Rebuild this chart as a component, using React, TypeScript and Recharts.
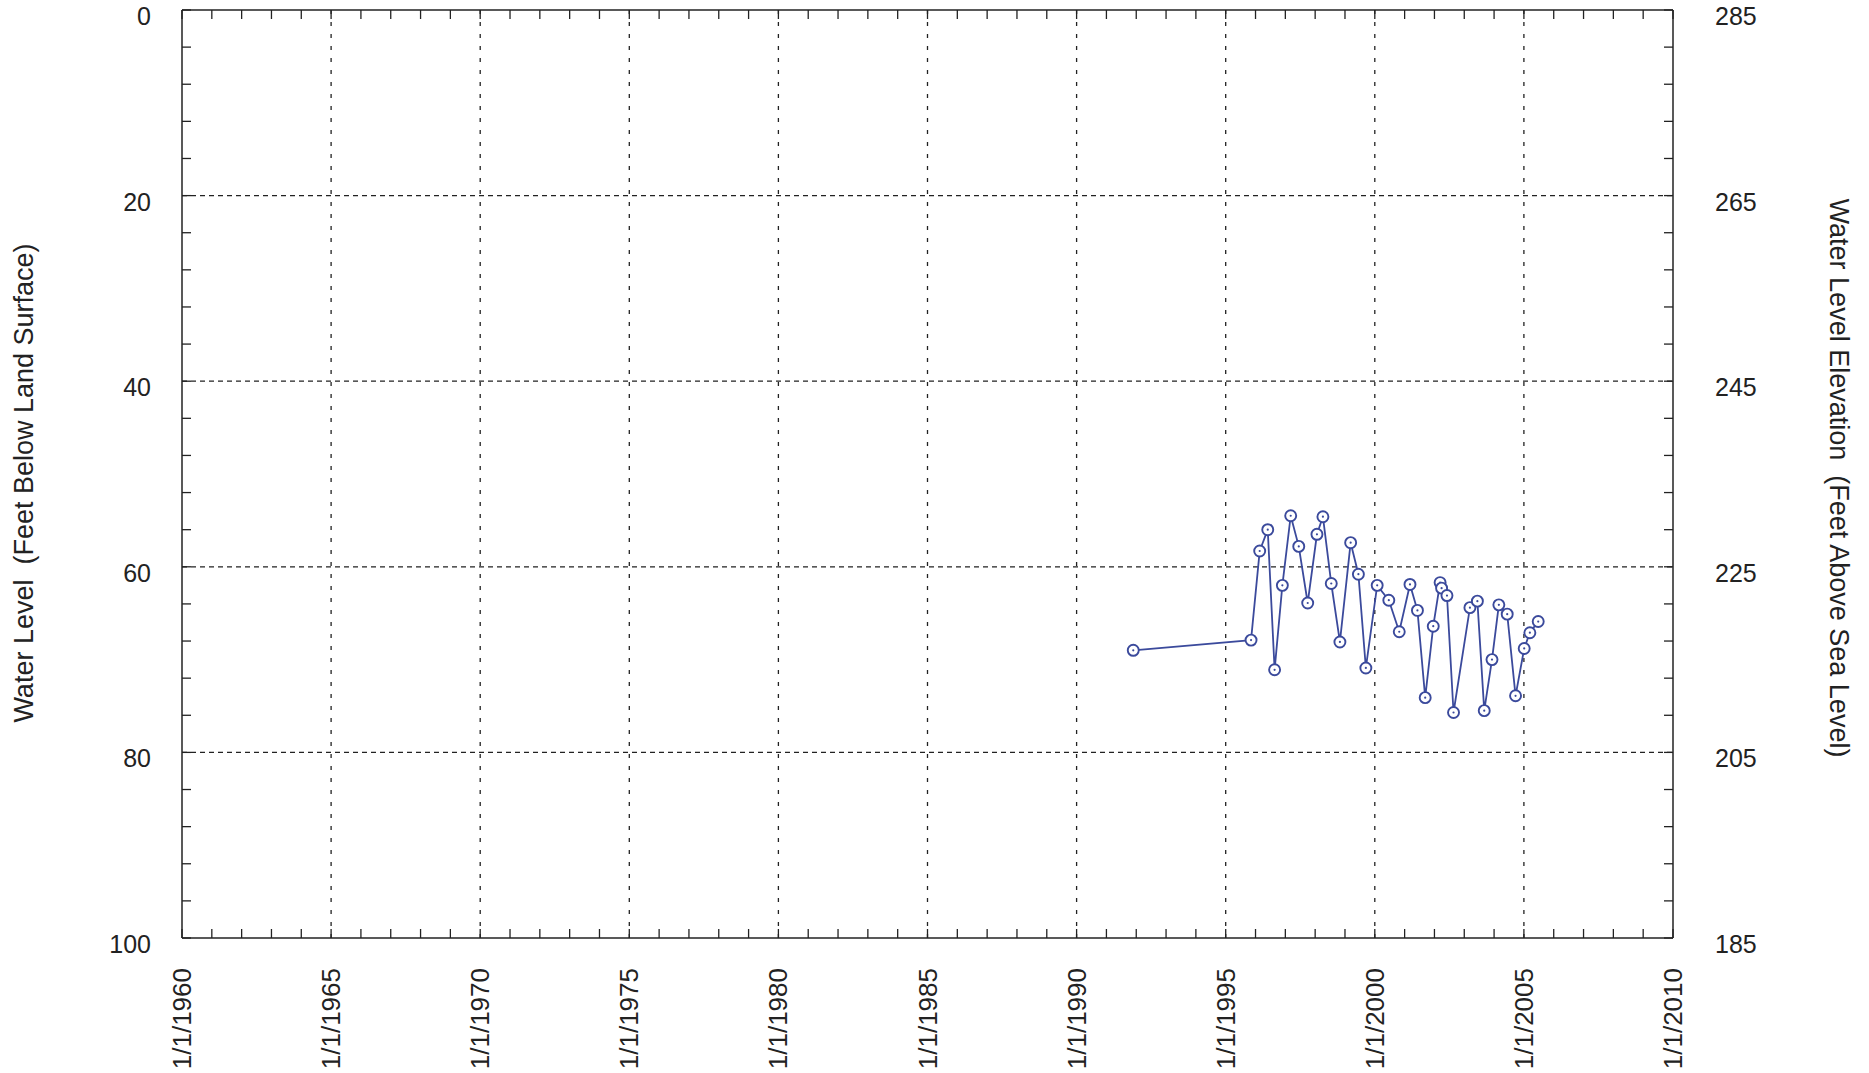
import { LineChart, Line, XAxis, YAxis, ReferenceLine } from "recharts";

// sample dates (decimal years) and depth to water (ft below land surface)
const sampleYears = [
  1991.9, 1995.85, 1996.14, 1996.41, 1996.64, 1996.9, 1997.18, 1997.45, 1997.75, 1998.06,
  1998.26, 1998.54, 1998.83, 1999.19, 1999.45, 1999.7, 2000.08, 2000.47, 2000.82, 2001.18,
  2001.43, 2001.69, 2001.96, 2002.19, 2002.24, 2002.42, 2002.64, 2003.19, 2003.44, 2003.67,
  2003.93, 2004.16, 2004.44, 2004.72, 2005.01, 2005.2, 2005.48,
];
const depthFt = [
  69.0, 67.9, 58.3, 56.0, 71.1, 62.0, 54.5, 57.8, 63.9, 56.5,
  54.6, 61.8, 68.1, 57.4, 60.8, 70.9, 62.0, 63.6, 67.0, 61.9,
  64.7, 74.1, 66.4, 61.7, 62.3, 63.1, 75.7, 64.4, 63.7, 75.5,
  70.0, 64.1, 65.1, 73.9, 68.8, 67.1, 65.9,
];

const yearTicks = [
  1960, 1961, 1962, 1963, 1964, 1965, 1966, 1967, 1968, 1969, 1970, 1971, 1972, 1973, 1974,
  1975, 1976, 1977, 1978, 1979, 1980, 1981, 1982, 1983, 1984, 1985, 1986, 1987, 1988, 1989,
  1990, 1991, 1992, 1993, 1994, 1995, 1996, 1997, 1998, 1999, 2000, 2001, 2002, 2003, 2004,
  2005, 2006, 2007, 2008, 2009, 2010,
];
const yearGrid = [1965, 1970, 1975, 1980, 1985, 1990, 1995, 2000, 2005];
const depthTicks = [0, 4, 8, 12, 16, 20, 24, 28, 32, 36, 40, 44, 48, 52, 56, 60, 64, 68, 72, 76, 80, 84, 88, 92, 96, 100];
const depthLabels = [0, 20, 40, 60, 80, 100];
const depthGrid = [20, 40, 60, 80];
const elevTicks = [185, 189, 193, 197, 201, 205, 209, 213, 217, 221, 225, 229, 233, 237, 241, 245, 249, 253, 257, 261, 265, 269, 273, 277, 281, 285];
const elevLabels = [285, 265, 245, 225, 205, 185];

const data = sampleYears.map((year, i) => ({ year, depth: depthFt[i] }));

const FONT = "'Liberation Sans', Arial, sans-serif";
const INK = "#222";
const BLUE = "#3b4a9c";
const TICK = 9;

function BottomTick({ x, y, payload }: any) {
  const v = payload.value;
  const major = v % 5 === 0;
  return (
    <g>
      <line x1={x} y1={y} x2={x} y2={y - TICK} stroke={INK} strokeWidth={1.3} />
      {major && (
        <text
          x={x}
          y={y + 30}
          transform={`rotate(-90 ${x} ${y + 30})`}
          textAnchor="end"
          dominantBaseline="central"
          fontSize={26}
          fontFamily={FONT}
          fill={INK}
        >
          {`1/1/${v}`}
        </text>
      )}
    </g>
  );
}

function TopTick({ x, y }: any) {
  return <line x1={x} y1={y} x2={x} y2={y + TICK} stroke={INK} strokeWidth={1.3} />;
}

function LeftTick({ x, y, payload }: any) {
  const v = payload.value;
  return (
    <g>
      <line x1={x} y1={y} x2={x + TICK} y2={y} stroke={INK} strokeWidth={1.3} />
      {depthLabels.includes(v) && (
        <text x={x - 31} y={y + 6} textAnchor="end" dominantBaseline="central" fontSize={25} fontFamily={FONT} fill={INK}>
          {v}
        </text>
      )}
    </g>
  );
}

function RightTick({ x, y, payload }: any) {
  const v = payload.value;
  return (
    <g>
      <line x1={x} y1={y} x2={x - TICK} y2={y} stroke={INK} strokeWidth={1.3} />
      {elevLabels.includes(v) && (
        <text x={x + 42} y={y + 6} textAnchor="start" dominantBaseline="central" fontSize={25} fontFamily={FONT} fill={INK}>
          {v}
        </text>
      )}
    </g>
  );
}

function OpenDot({ cx, cy, index }: any) {
  if (cx == null || cy == null) return <g key={`d${index}`} />;
  return (
    <g key={`d${index}`}>
      <circle cx={cx} cy={cy} r={5.5} fill="#fff" stroke={BLUE} strokeWidth={1.9} />
      <circle cx={cx} cy={cy} r={1.1} fill={BLUE} />
    </g>
  );
}

function LeftTitle({ viewBox }: any) {
  const cy = viewBox ? viewBox.y + viewBox.height / 2 + 9 : 483;
  return (
    <text x={24} y={cy} transform={`rotate(-90 24 ${cy})`} textAnchor="middle" dominantBaseline="central" fontSize={27} fontFamily={FONT} fill={INK}>
      {"Water Level\u00A0\u00A0(Feet Below Land Surface)"}
    </text>
  );
}

function RightTitle({ viewBox }: any) {
  const cy = viewBox ? viewBox.y + viewBox.height / 2 + 4 : 478;
  return (
    <text x={1839} y={cy} transform={`rotate(90 1839 ${cy})`} textAnchor="middle" dominantBaseline="central" fontSize={27} fontFamily={FONT} fill={INK}>
      {"Water Level Elevation\u00A0\u00A0(Feet Above Sea Level)"}
    </text>
  );
}

export default function App() {
  return (
    <div style={{ position: "absolute", left: 0, top: 0, width: 1869, height: 1073, background: "#fff" }}>
      <LineChart width={1869} height={1073} data={data} margin={{ top: 0, right: 0, bottom: 0, left: 0 }}>
        <XAxis
          xAxisId="b"
          dataKey="year"
          type="number"
          domain={[1960, 2010]}
          ticks={yearTicks}
          interval={0}
          allowDataOverflow
          height={135}
          tickSize={0}
          tickMargin={0}
          tickLine={false}
          tick={<BottomTick />}
          axisLine={{ stroke: INK, strokeWidth: 1.5 }}
        />
        <XAxis
          xAxisId="t"
          orientation="top"
          dataKey="year"
          type="number"
          domain={[1960, 2010]}
          ticks={yearTicks}
          interval={0}
          allowDataOverflow
          height={10}
          tickSize={0}
          tickMargin={0}
          tickLine={false}
          tick={<TopTick />}
          axisLine={{ stroke: INK, strokeWidth: 1.5 }}
        />
        <YAxis
          yAxisId="l"
          type="number"
          domain={[0, 100]}
          reversed
          ticks={depthTicks}
          interval={0}
          allowDataOverflow
          width={182}
          tickSize={0}
          tickMargin={0}
          tickLine={false}
          tick={<LeftTick />}
          axisLine={{ stroke: INK, strokeWidth: 1.5 }}
          label={<LeftTitle />}
        />
        <YAxis
          yAxisId="r"
          orientation="right"
          type="number"
          domain={[185, 285]}
          ticks={elevTicks}
          interval={0}
          allowDataOverflow
          width={196}
          tickSize={0}
          tickMargin={0}
          tickLine={false}
          tick={<RightTick />}
          axisLine={{ stroke: INK, strokeWidth: 1.5 }}
          label={<RightTitle />}
        />
        {depthGrid.map((d) => (
          <ReferenceLine key={`h${d}`} xAxisId="b" yAxisId="l" y={d} stroke={INK} strokeWidth={1.3} strokeDasharray="5 4" />
        ))}
        {yearGrid.map((yr) => (
          <ReferenceLine key={`v${yr}`} xAxisId="b" yAxisId="l" x={yr} stroke={INK} strokeWidth={1.3} strokeDasharray="4 8" />
        ))}
        <Line
          xAxisId="b"
          yAxisId="l"
          dataKey="depth"
          stroke={BLUE}
          strokeWidth={1.8}
          dot={<OpenDot />}
          isAnimationActive={false}
        />
      </LineChart>
    </div>
  );
}
